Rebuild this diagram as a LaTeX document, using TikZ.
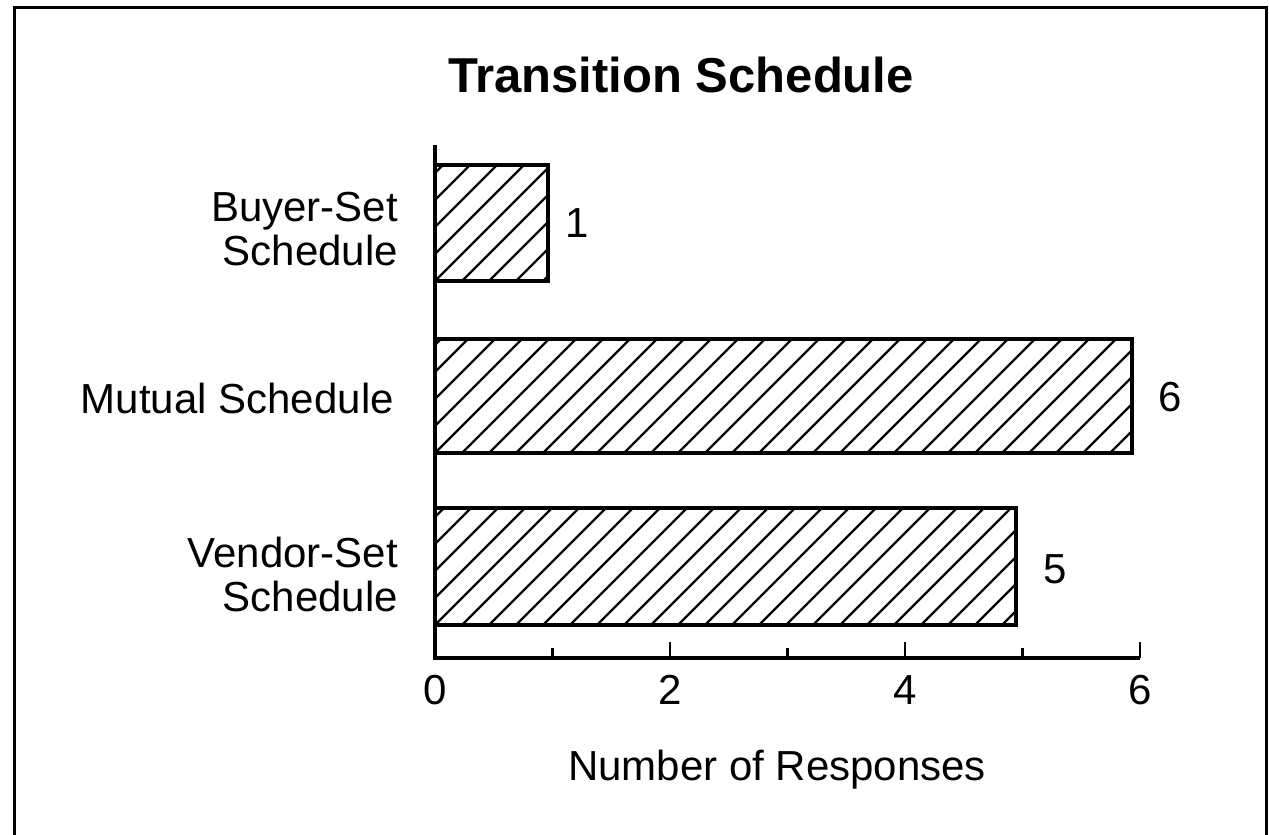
\documentclass[tikz,border=0pt]{standalone}
\usepackage{fontspec}
\setmainfont{Liberation Sans}
\begin{document}
\begin{tikzpicture}[x=1pt,y=-1pt,
  lbl/.style={font=\fontsize{42}{44}\selectfont, inner sep=0pt},
  ttl/.style={font=\fontsize{49}{58}\selectfont\bfseries, inner sep=0pt},
  barbox/.style={draw=black, line width=3.4pt},
  hatch/.style={line width=2.2pt},
  axisline/.style={line width=3.6pt},
  tickmark/.style={line width=2.8pt}]
\useasboundingbox (0,0) rectangle (1269,835);
\fill[white] (0,0) rectangle (1269,835);

% open frame (no bottom edge)
\draw[line width=3pt] (14,835) -- (14,7) -- (1266,7) -- (1266,835);

% title
\node[ttl] (title) at (681,75) {Transition Schedule};

% hatched bars: name / right end / top / bottom
\foreach \nm/\xr/\yt/\yb in {buyer/548/165/281, mutual/1132/339/453, vendor/1016/508/625}{
  \begin{scope}
    \clip (435,\yt) rectangle (\xr,\yb);
    \foreach \k in {-6,...,30}{
      \draw[hatch] (435+\k*27,\yb) -- ++(150,-150);
    }
  \end{scope}
  \draw[barbox] (435,\yt) rectangle (\xr,\yb);
  \coordinate (\nm-e) at (\xr,{(\yt+\yb)/2});
}

% axes
\coordinate (origin) at (435,658);
\coordinate (ytop) at (435,145);
\coordinate (xend) at (1140,658);
\draw[axisline] (ytop) -- (origin) -- (xend);
\foreach \v in {0,2,4,6}{
  \draw[tickmark] (435+\v*117.5,658) -- ++(0,-16);
  \node[lbl] (t\v) at (435+\v*117.5,690) {\v};
}
\foreach \v in {1,3,5}{
  \draw[tickmark] (435+\v*117.5,658) -- ++(0,-10);
}

% value labels
\node[lbl] (v1) at (577,223) {1};
\node[lbl] (v6) at (1170,397) {6};
\node[lbl] (v5) at (1055,569) {5};

% category labels
\node[lbl, align=right, anchor=east] (cb) at (398,229) {Buyer-Set\\Schedule};
\node[lbl, anchor=east] (cm) at (394,398) {Mutual Schedule};
\node[lbl, align=right, anchor=east] (cv) at (398,574) {Vendor-Set\\Schedule};

% axis title
\node[lbl] (xt) at (777,770) {Number of Responses};
\end{tikzpicture}
\end{document}
